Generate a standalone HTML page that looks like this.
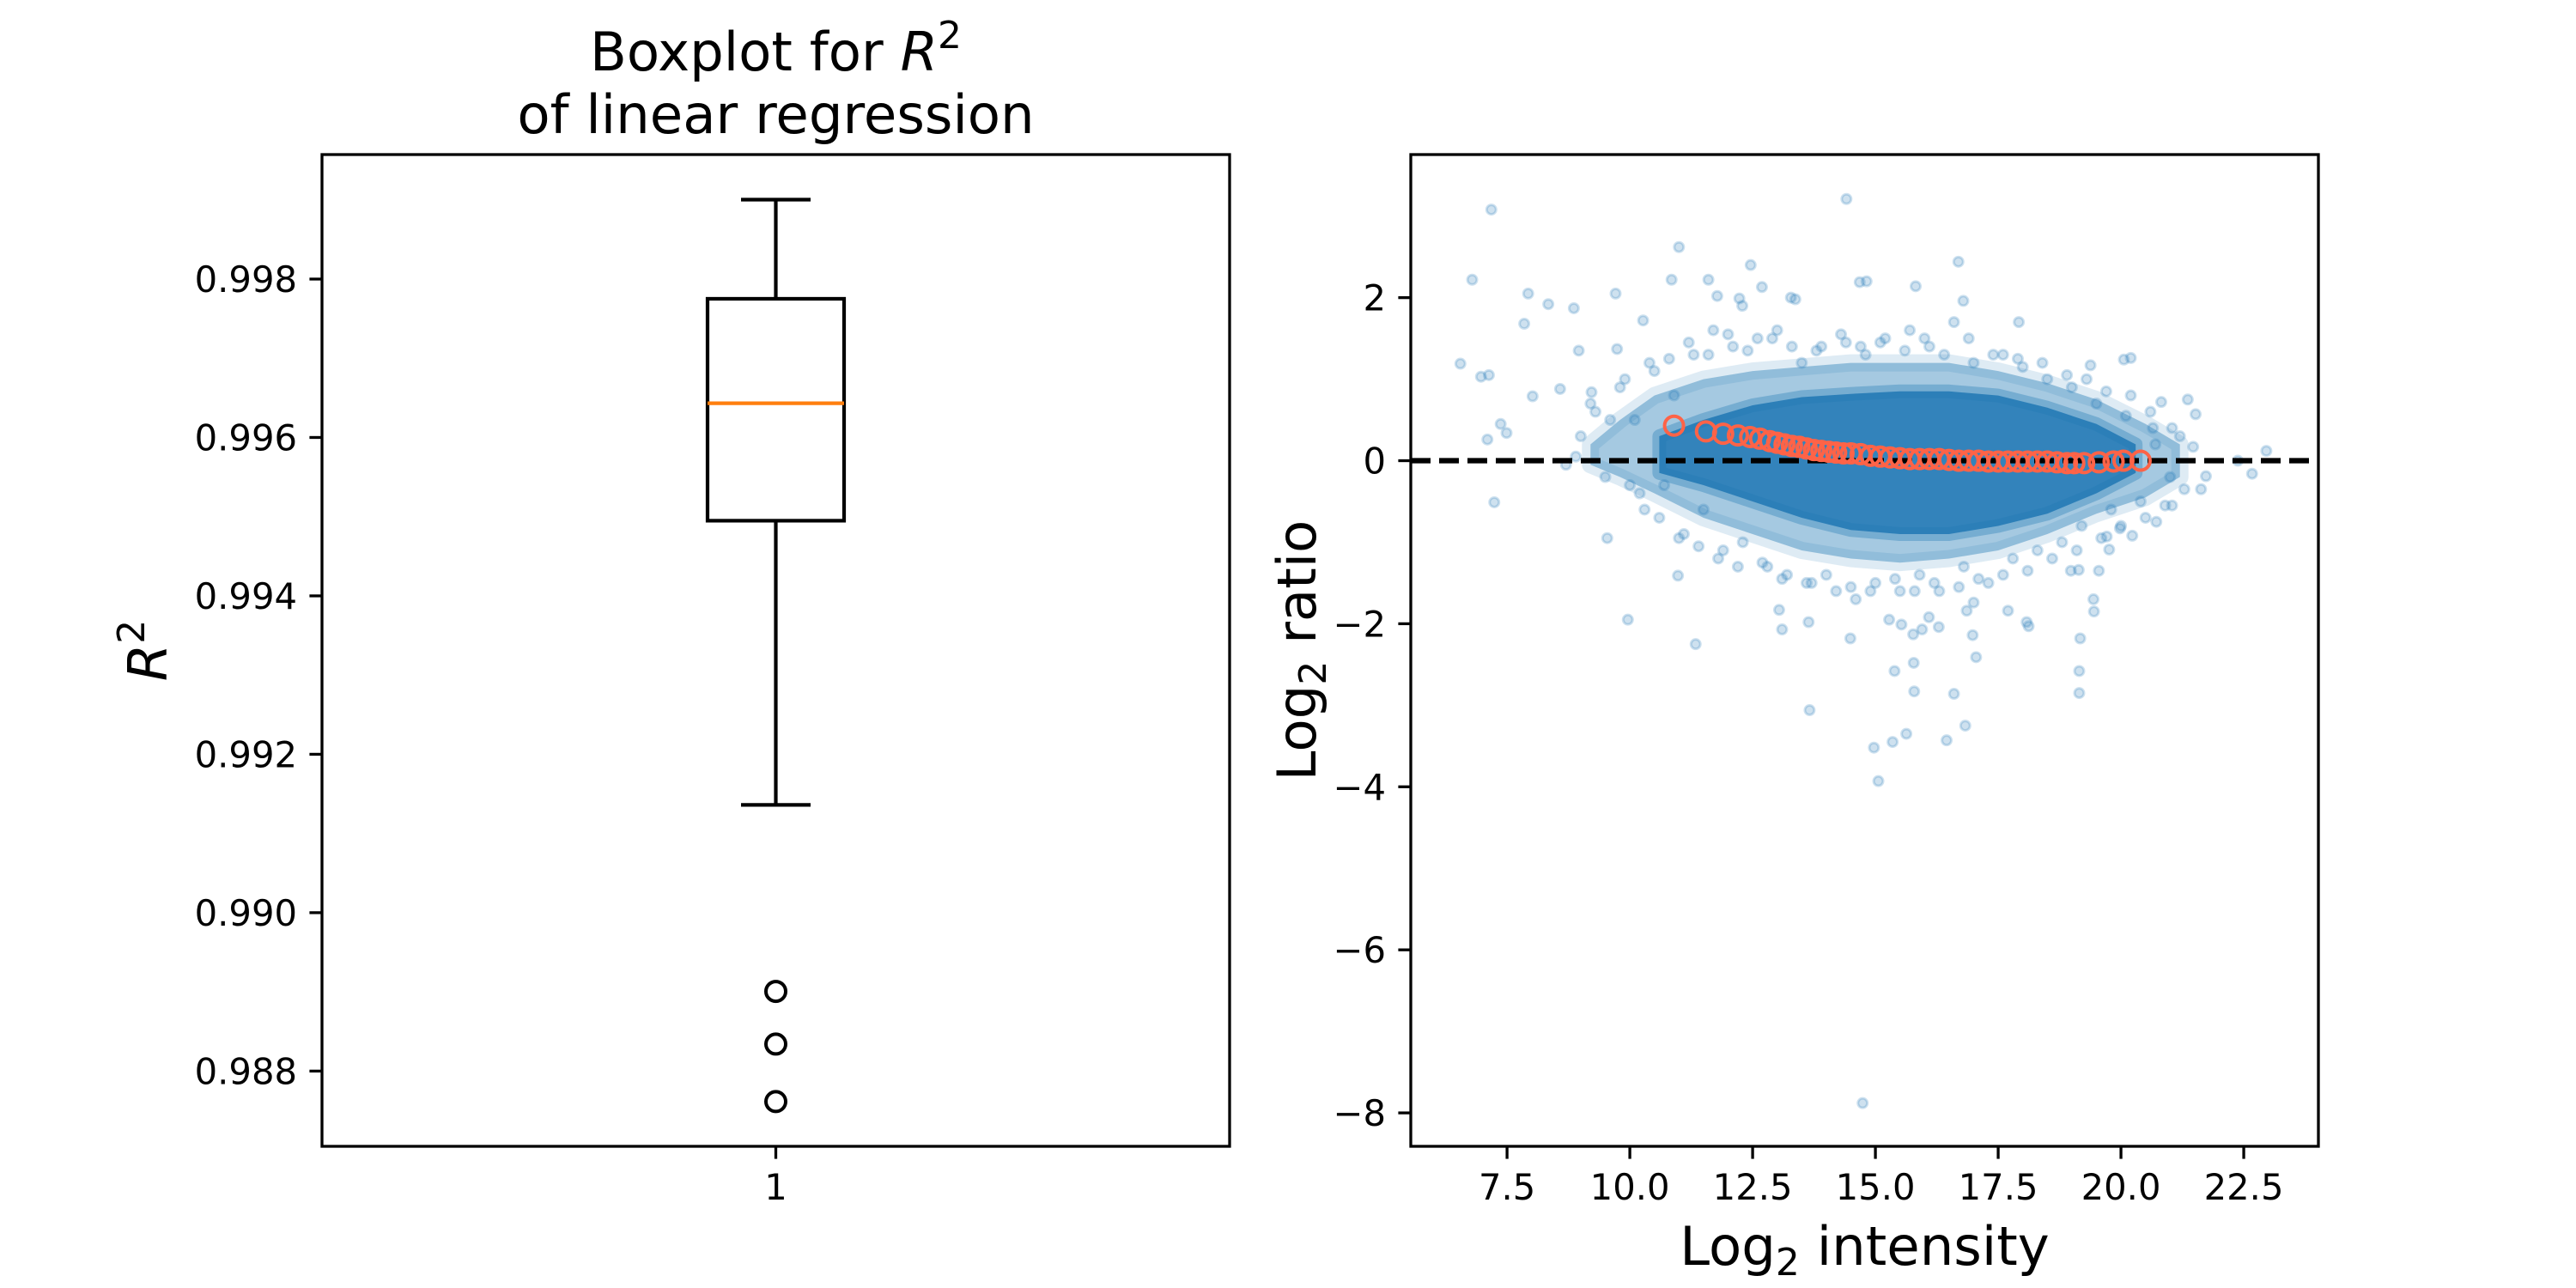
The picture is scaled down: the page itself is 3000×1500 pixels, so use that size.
<!DOCTYPE html>
<html><head><meta charset="utf-8">
<style>
html,body{margin:0;padding:0;background:#fff;}
svg{display:block;}
text{font-family:"DejaVu Sans","Liberation Sans",sans-serif;fill:#000;}
</style></head>
<body>
<svg id="fig" width="3000" height="1500" viewBox="0 0 3000 1500" xmlns="http://www.w3.org/2000/svg">
<rect width="3000" height="1500" fill="#fff"/>
<g id="left"></g>
<g id="right"></g>
</svg>
<script>
// ---------- Boxplot data ----------
const boxCategories = ["1"];
const boxWhiskerHigh = [0.999003];
const boxQ3 = [0.997751];
const boxMedian = [0.996432];
const boxQ1 = [0.994949];
const boxWhiskerLow = [0.991361];
const boxFliers = [0.989006, 0.988341, 0.987615];
const boxYTicks = [0.988, 0.990, 0.992, 0.994, 0.996, 0.998];
const boxYTickLabels = ["0.988", "0.990", "0.992", "0.994", "0.996", "0.998"];

// ---------- MA-plot data ----------
const maXTicks = [7.5, 10.0, 12.5, 15.0, 17.5, 20.0, 22.5];
const maXTickLabels = ["7.5", "10.0", "12.5", "15.0", "17.5", "20.0", "22.5"];
const maYTicks = [2, 0, -2, -4, -6, -8];
const maYTickLabels = ["2", "0", "\u22122", "\u22124", "\u22126", "\u22128"];
// density envelopes of the scatter cloud (per intensity bin)
const haloX = [9.2, 9.8, 10.5, 11.5, 12.5, 13.5, 14.5, 15.5, 16.5, 17.5, 18.5, 19.5, 20.5, 21.2];
const haloUpper = [0.2, 0.5, 0.8, 1.0, 1.1, 1.15, 1.2, 1.2, 1.2, 1.1, 0.95, 0.75, 0.45, 0.2];
const haloLower = [-0.05, -0.2, -0.4, -0.7, -0.9, -1.1, -1.2, -1.25, -1.2, -1.1, -0.9, -0.65, -0.45, -0.2];
const coreX = [10.6, 11.5, 12.5, 13.5, 14.5, 15.5, 16.5, 17.5, 18.5, 19.5, 20.3];
const coreUpper = [0.3, 0.5, 0.68, 0.78, 0.82, 0.85, 0.85, 0.8, 0.65, 0.45, 0.2];
const coreLower = [-0.15, -0.3, -0.5, -0.7, -0.85, -0.9, -0.9, -0.8, -0.65, -0.4, -0.15];
// individual scatter points (intensity, ratio)
const ptX = [7.18,14.41,6.79,7.93,8.34,8.86,7.85,9.71,11.0,10.85,12.46,16.69,14.68,14.82,15.82,16.79,12.69,11.6,11.78,13.28,13.37,12.23,12.29,17.92,20.06,20.2,19.38,6.55,6.97,7.13,8.02,7.37,7.49,7.1,7.24,8.96,8.58,9.22,9.74,10.27,9.96,11.34,10.98,9.54,13.66,13.04,13.1,13.64,14.49,14.74,14.97,15.06,15.35,15.63,15.39,15.78,15.79,15.28,15.53,15.77,15.95,16.29,16.09,16.45,16.6,16.83,16.98,17.05,16.86,17.0,17.7,18.08,18.12,19.17,19.15,19.15,19.44,19.45,18.98,19.14,19.55,19.76,21.47,21.36,21.52,21.73,22.38,22.67,22.96,20.82,20.65,21.04,21.04,20.72,20.23,19.71,19.98,21.29,21.63,
9.0,9.3,9.5,9.8,10.1,10.3,10.5,10.7,10.9,11.1,11.3,11.5,11.7,11.9,12.1,12.3,12.6,12.8,13.0,13.2,13.5,13.7,13.9,14.2,14.4,14.6,14.8,15.0,15.2,15.5,15.7,15.9,16.1,16.3,16.6,16.8,17.0,17.3,17.6,17.8,18.0,18.3,18.5,18.8,19.0,19.2,19.5,19.8,20.1,20.4,20.7,21.0,21.2,8.7,8.9,9.6,10.0,
9.2,9.9,10.4,10.8,11.2,11.6,12.0,12.4,12.9,13.3,13.8,14.3,14.7,15.1,15.6,16.0,16.4,16.9,17.4,17.9,18.4,18.9,19.3,19.7,20.2,20.6,
10.2,10.6,11.0,11.4,11.8,12.2,12.7,13.1,13.6,14.0,14.5,14.9,15.4,15.8,16.2,16.7,17.1,17.6,18.1,18.6,19.1,19.6,20.0,20.5,20.9];
const ptY = [3.08,3.21,2.22,2.05,1.92,1.87,1.68,2.05,2.62,2.22,2.4,2.44,2.19,2.2,2.14,1.96,2.13,2.22,2.02,2.0,1.98,1.99,1.9,1.7,1.24,1.26,1.17,1.19,1.03,1.05,0.79,0.45,0.34,0.26,-0.51,1.35,0.88,0.84,1.37,1.72,-1.95,-2.25,-1.41,-0.95,-3.06,-1.83,-2.07,-1.98,-2.18,-7.88,-3.52,-3.93,-3.45,-3.35,-2.58,-2.48,-2.83,-1.95,-2.01,-2.13,-2.07,-2.04,-1.92,-3.43,-2.86,-3.25,-2.14,-2.41,-1.84,-1.74,-1.84,-1.98,-2.03,-2.18,-2.58,-2.85,-1.7,-1.85,-1.35,-1.34,-1.35,-1.09,0.17,0.75,0.57,-0.19,0.0,-0.16,0.12,0.72,0.4,0.4,-0.55,-0.75,-0.92,-0.93,-0.83,-0.35,-0.35,
0.3,0.6,-0.2,0.9,0.5,-0.6,1.1,-0.3,0.8,-0.9,1.3,-0.6,1.6,-1.1,1.4,-1.0,1.5,-1.3,1.6,-1.4,1.2,-1.5,1.4,-1.6,1.45,-1.7,1.3,-1.5,1.5,-1.6,1.6,-1.4,1.4,-1.6,1.7,-1.3,1.2,-1.5,1.3,-1.2,1.15,-1.1,1.0,-1.0,0.9,-0.8,0.7,-0.6,0.55,-0.5,0.2,-0.2,0.3,-0.05,0.05,0.5,-0.3,
0.7,1.0,1.2,1.25,1.45,1.3,1.55,1.35,1.5,1.4,1.35,1.55,1.4,1.45,1.35,1.5,1.3,1.5,1.3,1.25,1.2,1.05,1.0,0.85,0.8,0.6,
-0.4,-0.7,-0.95,-1.05,-1.2,-1.3,-1.25,-1.45,-1.5,-1.4,-1.55,-1.6,-1.45,-1.6,-1.5,-1.55,-1.45,-1.4,-1.35,-1.2,-1.1,-0.95,-0.8,-0.7,-0.55];
// smoothed trend (lowess) points
const trendX = [10.9,11.55,11.9,12.2,12.45,12.65,12.85,13.0,13.15,13.3,13.45,13.6,13.75,13.9,14.05,14.2,14.35,14.5,14.7,14.9,15.1,15.3,15.5,15.7,15.9,16.1,16.3,16.5,16.7,16.9,17.1,17.3,17.5,17.7,17.9,18.1,18.3,18.5,18.7,18.9,19.05,19.25,19.55,19.85,20.05,20.4];
const trendY = [0.43,0.36,0.33,0.31,0.29,0.27,0.24,0.22,0.2,0.18,0.17,0.15,0.13,0.12,0.11,0.1,0.09,0.09,0.08,0.06,0.05,0.04,0.03,0.02,0.02,0.02,0.02,0.01,0.0,0.0,0.0,-0.01,-0.01,-0.01,-0.01,-0.01,-0.01,-0.01,-0.02,-0.03,-0.03,-0.03,-0.02,-0.01,0.0,0.0];

const NS = "http://www.w3.org/2000/svg";
function mk(parent, tag, attrs, text) {
  const e = document.createElementNS(NS, tag);
  for (const k in attrs) e.setAttribute(k, attrs[k]);
  if (text !== undefined) e.textContent = text;
  parent.appendChild(e);
  return e;
}

// ================= LEFT: boxplot =================
(function () {
  const g = document.getElementById('left');
  const L = 375, R = 1432, T = 180, B = 1335;
  const yMin = 0.98705, yMax = 0.999572;
  const ys = v => B - (v - yMin) / (yMax - yMin) * (B - T);
  const cx = (L + R) / 2;
  const bw = 159, cw = 81;

  const title1 = mk(g, 'text', {x: cx, y: 82, 'font-size': 62.5, 'text-anchor': 'middle'});
  
  
  title1.appendChild(document.createTextNode('Boxplot for '));
  mk(title1, 'tspan', {'font-style': 'italic'}, 'R');
  mk(title1, 'tspan', {dy: -26, 'font-size': 44}, '2');
  const title2 = mk(g, 'text', {x: cx, y: 155, 'font-size': 62.5, 'text-anchor': 'middle'}, 'of linear regression');
  
  

  const st = {stroke: '#000', 'stroke-width': 4.2, fill: 'none'};
  const i = 0;
  const wh = mk(g, 'line', Object.assign({x1: cx, x2: cx, y1: ys(boxWhiskerHigh[i]), y2: ys(boxQ3[i])}, st));
  
  
  const wl = mk(g, 'line', Object.assign({x1: cx, x2: cx, y1: ys(boxQ1[i]), y2: ys(boxWhiskerLow[i])}, st));
  
  
  const ch = mk(g, 'line', Object.assign({x1: cx - cw / 2, x2: cx + cw / 2, y1: ys(boxWhiskerHigh[i]), y2: ys(boxWhiskerHigh[i])}, st));
  
  
  const cl = mk(g, 'line', Object.assign({x1: cx - cw / 2, x2: cx + cw / 2, y1: ys(boxWhiskerLow[i]), y2: ys(boxWhiskerLow[i])}, st));
  
  
  const box = mk(g, 'rect', Object.assign({x: cx - bw / 2, y: ys(boxQ3[i]), width: bw, height: ys(boxQ1[i]) - ys(boxQ3[i])}, st));
  
  
  const med = mk(g, 'line', {x1: cx - bw / 2, x2: cx + bw / 2, y1: ys(boxMedian[i]), y2: ys(boxMedian[i]), stroke: '#ff7f0e', 'stroke-width': 4.2});
  
  
  boxFliers.forEach(v => {
    const c = mk(g, 'circle', {cx: cx, cy: ys(v), r: 11.5, fill: 'none', stroke: '#000', 'stroke-width': 4});
    
    
  });

  const fr = mk(g, 'rect', {x: L, y: T, width: R - L, height: B - T, fill: 'none', stroke: '#000', 'stroke-width': 3.3});
  
  

  boxYTicks.forEach((v, k) => {
    const y = ys(v);
    const t = mk(g, 'line', {x1: L - 14.6, x2: L, y1: y, y2: y, stroke: '#000', 'stroke-width': 3.3});
    
    
    const lb = mk(g, 'text', {x: L - 29, y: y + 15, 'font-size': 41.7, 'text-anchor': 'end'}, boxYTickLabels[k]);
    
    
  });
  const xt = mk(g, 'line', {x1: cx, x2: cx, y1: B, y2: B + 14.6, stroke: '#000', 'stroke-width': 3.3});
  
  
  const xl = mk(g, 'text', {x: cx, y: B + 62, 'font-size': 41.7, 'text-anchor': 'middle'}, boxCategories[0]);
  
  

  const yl = mk(g, 'text', {x: 0, y: 0, 'font-size': 62.5, 'text-anchor': 'middle', transform: 'translate(194,' + ((T + B) / 2) + ') rotate(-90)'});
  
  
  mk(yl, 'tspan', {'font-style': 'italic'}, 'R');
  mk(yl, 'tspan', {dy: -26, 'font-size': 44}, '2');
})();

// ================= RIGHT: MA plot =================
(function () {
  const g = document.getElementById('right');
  const L = 1643, R = 2700, T = 180, B = 1335;
  const xMin = 5.54, xMax = 24.02, yMin = -8.41, yMax = 3.755;
  const xs = v => L + (v - xMin) / (xMax - xMin) * (R - L);
  const ys = v => B - (v - yMin) / (yMax - yMin) * (B - T);

  const cp = mk(g, 'clipPath', {id: 'clipR'});
  mk(cp, 'rect', {x: L, y: T, width: R - L, height: B - T});
  const plot = mk(g, 'g', {'clip-path': 'url(#clipR)'});
  
  

  function band(xa, up, lo) {
    let d = '';
    xa.forEach((x, k) => { d += (k ? 'L' : 'M') + xs(x).toFixed(1) + ',' + ys(up[k]).toFixed(1); });
    for (let k = xa.length - 1; k >= 0; k--) d += 'L' + xs(xa[k]).toFixed(1) + ',' + ys(lo[k]).toFixed(1);
    return d + 'Z';
  }
  const halo = mk(plot, 'path', {d: band(haloX, haloUpper, haloLower), fill: '#1f77b4', 'fill-opacity': 0.4, stroke: '#1f77b4', 'stroke-opacity': 0.15, 'stroke-width': 20, 'stroke-linejoin': 'round'});
  
  
  const core = mk(plot, 'path', {d: band(coreX, coreUpper, coreLower), fill: '#1f77b4', 'fill-opacity': 0.85, stroke: '#1f77b4', 'stroke-opacity': 0.35, 'stroke-width': 16, 'stroke-linejoin': 'round'});
  
  

  ptX.forEach((x, k) => {
    const c = mk(plot, 'circle', {cx: xs(x), cy: ys(ptY[k]), r: 5.5, fill: '#1f77b4', 'fill-opacity': 0.22, stroke: '#1f77b4', 'stroke-opacity': 0.22, 'stroke-width': 3});
    
    
  });

  const zl = mk(plot, 'line', {x1: L, x2: R, y1: ys(0), y2: ys(0), stroke: '#000', 'stroke-width': 6.25, 'stroke-dasharray': '23 10'});
  
  

  trendX.forEach((x, k) => {
    const c = mk(plot, 'circle', {cx: xs(x), cy: ys(trendY[k]), r: 11, fill: 'none', stroke: '#ff6347', 'stroke-width': 4});
    
    
  });

  const fr = mk(g, 'rect', {x: L, y: T, width: R - L, height: B - T, fill: 'none', stroke: '#000', 'stroke-width': 3.3});
  
  

  maXTicks.forEach((v, k) => {
    const x = xs(v);
    const t = mk(g, 'line', {x1: x, x2: x, y1: B, y2: B + 14.6, stroke: '#000', 'stroke-width': 3.3});
    
    
    const lb = mk(g, 'text', {x: x, y: 1397, 'font-size': 41.7, 'text-anchor': 'middle'}, maXTickLabels[k]);
    
    
  });
  maYTicks.forEach((v, k) => {
    const y = ys(v);
    const t = mk(g, 'line', {x1: L - 14.6, x2: L, y1: y, y2: y, stroke: '#000', 'stroke-width': 3.3});
    
    
    const lb = mk(g, 'text', {x: L - 29, y: y + 15, 'font-size': 41.7, 'text-anchor': 'end'}, maYTickLabels[k]);
    
    
  });

  const xl = mk(g, 'text', {x: (L + R) / 2, y: 1473, 'font-size': 62.5, 'text-anchor': 'middle'});
  
  
  xl.appendChild(document.createTextNode('Log'));
  mk(xl, 'tspan', {dy: 12, 'font-size': 44}, '2');
  mk(xl, 'tspan', {dy: -12}, '\u00a0intensity');

  const yl = mk(g, 'text', {x: 0, y: 0, 'font-size': 62.5, 'text-anchor': 'middle', transform: 'translate(1532,' + ((T + B) / 2) + ') rotate(-90)'});
  
  
  yl.appendChild(document.createTextNode('Log'));
  mk(yl, 'tspan', {dy: 12, 'font-size': 44}, '2');
  mk(yl, 'tspan', {dy: -12}, '\u00a0ratio');
})();
</script>
</body></html>
